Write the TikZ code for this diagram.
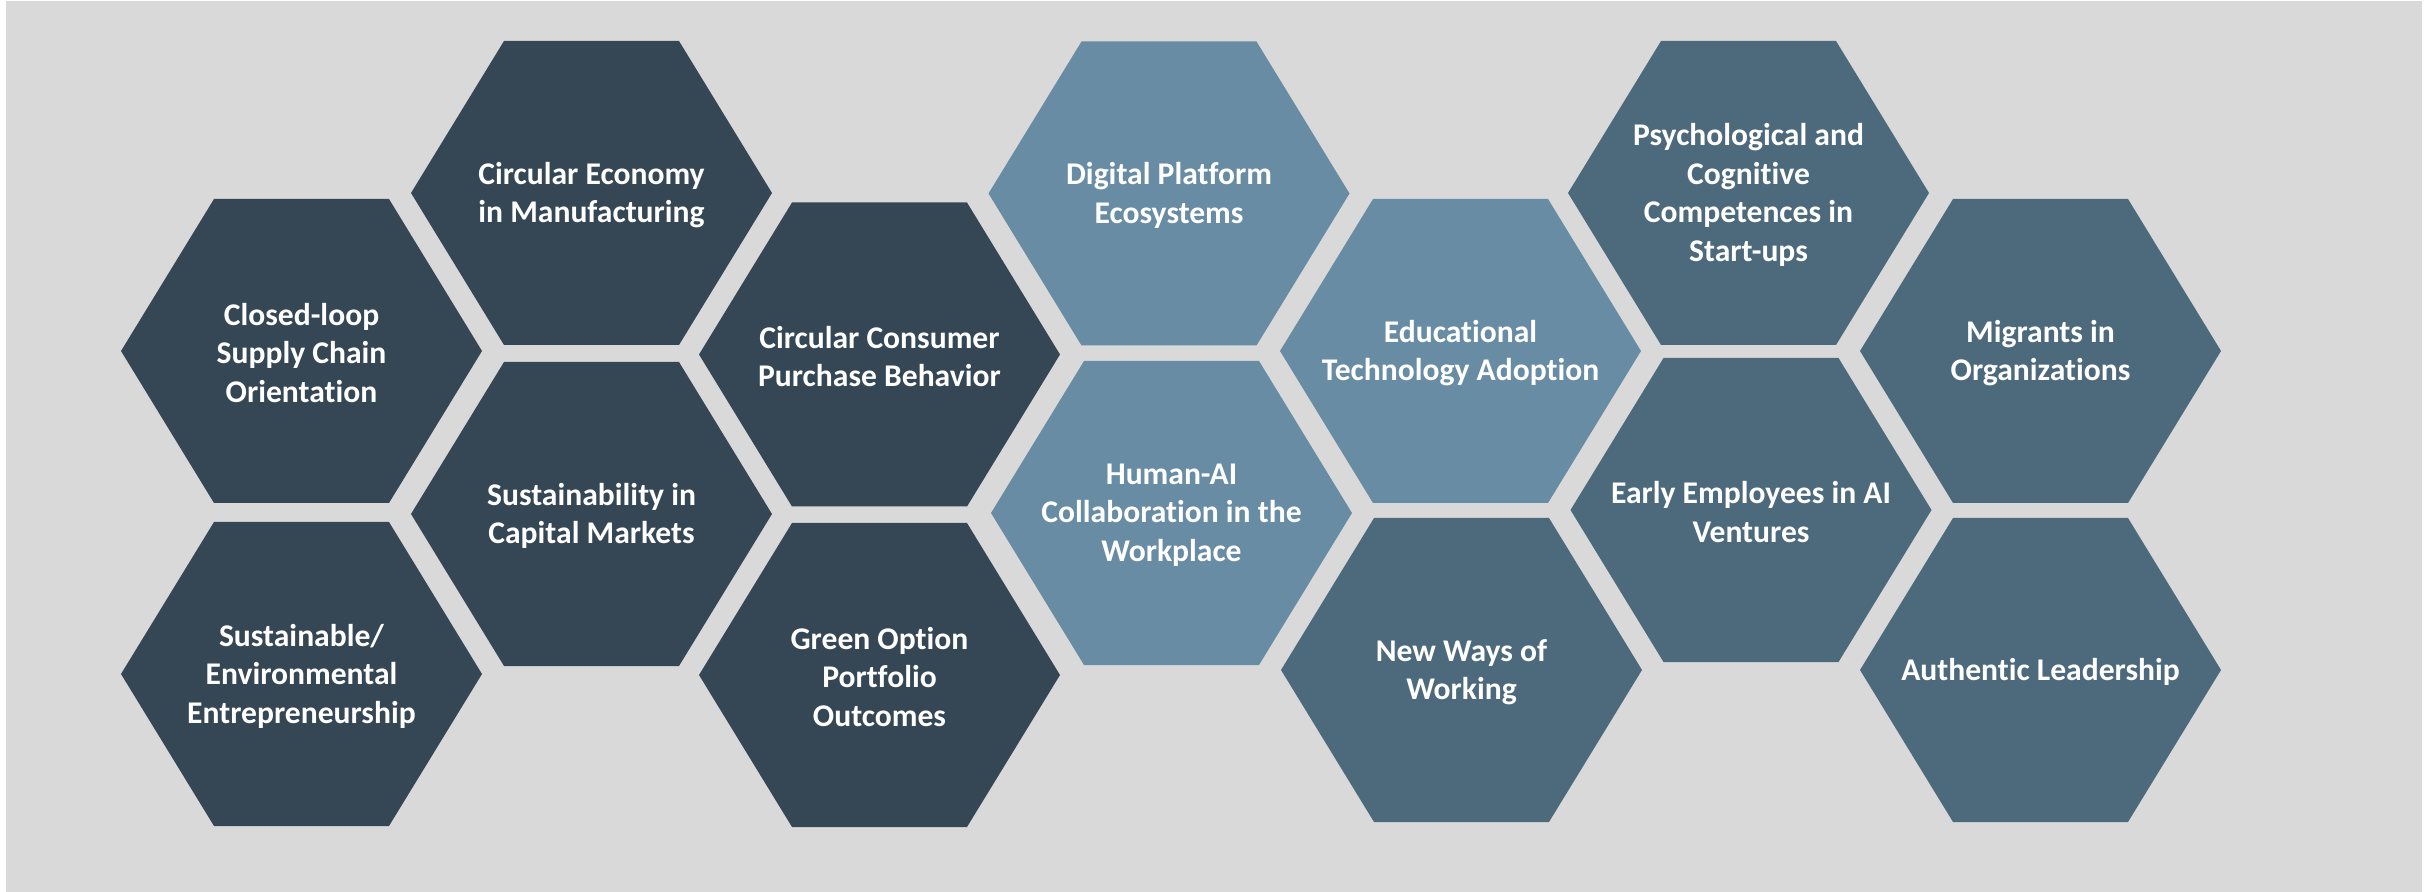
\documentclass[tikz,border=0pt]{standalone}
\usepackage{fontspec}
\setmainfont{Carlito}[Ligatures={NoCommon,NoContextual}]
\definecolor{bggray}{RGB}{217,217,217}
\definecolor{hexdark}{RGB}{53,70,84}
\definecolor{hexmid}{RGB}{77,106,125}
\definecolor{hexlight}{RGB}{104,140,164}
\tikzset{
  hexlabel/.style={text=white, align=center, inner sep=0pt,
    font=\bfseries\fontsize{15.8}{19.3}\selectfont},
}
\newcommand\hexcell[5]{%
  \fill[#4] (#2,#3) ++(-180.5,0) -- ++(93,-152) -- ++(175,0) -- ++(93,152)
     -- ++(-93,152) -- ++(-175,0) -- cycle;
  \node[hexlabel] (#1) at (#2,#3+2) {#5};
}
\begin{document}
\begin{tikzpicture}[x=0.5pt,y=-0.5pt]
\useasboundingbox (0,0) rectangle (2435,892);
\fill[bggray] (6,1) rectangle (2422,892);
\hexcell{closedloop}{301.5}{351}{hexdark}{Closed-loop\\Supply Chain\\Orientation}
\hexcell{sustent}{301.5}{674}{hexdark}{Sustainable/\\Environmental\\Entrepreneurship}
\hexcell{circecon}{591.5}{193}{hexdark}{Circular Economy\\in Manufacturing}
\hexcell{sustcap}{591.5}{514}{hexdark}{Sustainability in\\Capital Markets}
\hexcell{circcons}{879.5}{354.5}{hexdark}{Circular Consumer\\Purchase Behavior}
\hexcell{green}{879.5}{675}{hexdark}{Green Option\\Portfolio\\Outcomes}
\hexcell{digital}{1169}{193.5}{hexlight}{Digital Platform\\Ecosystems}
\hexcell{humanai}{1171.5}{513}{hexlight}{Human-AI\\Collaboration in the\\Workplace}
\hexcell{edtech}{1460.5}{351}{hexlight}{Educational\\Technology Adoption}
\hexcell{newways}{1461.5}{670}{hexmid}{New Ways of\\Working}
\hexcell{psych}{1748.5}{193}{hexmid}{Psychological and\\Cognitive\\Competences in\\Start-ups}
\hexcell{early}{1751}{510}{hexmid}{Early Employees in AI\\Ventures}
\hexcell{migrants}{2040.5}{351}{hexmid}{Migrants in\\Organizations}
\hexcell{authentic}{2040.5}{670}{hexmid}{Authentic Leadership}
\end{tikzpicture}
\end{document}
